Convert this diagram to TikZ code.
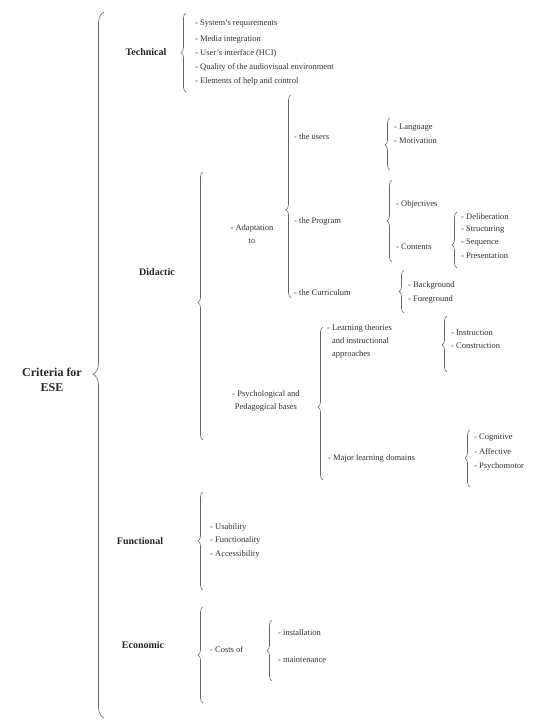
\documentclass[tikz,border=0pt]{standalone}
\usepackage{fontspec}
\setmainfont{Liberation Serif}
\usetikzlibrary{decorations.pathreplacing}
\tikzset{
    lbrace/.style={draw=black!60,line width=0.6pt,decorate,decoration={brace,amplitude=5pt,aspect=#1}},
    lbrace/.default=0.5,
    item/.style={anchor=west,align=left,inner sep=0pt,text=black!80,font=\fontsize{8.5}{13}\selectfont},
    group/.style={inner sep=0pt,text=black!85,font=\fontsize{10}{12}\selectfont\bfseries}
}
\begin{document}
\begin{tikzpicture}[x=1pt,y=-1pt]
        % Draw page
        \useasboundingbox[fill=white] (0,0) rectangle (545,724);
        % Draw root
        \node[inner sep=0pt,align=center,text=black!85,font=\fontsize{12}{15}\selectfont\bfseries] (root) at (52,380) {Criteria for\\ESE};
        \draw[lbrace=0.487,decoration={amplitude=11pt}] (104,718) -- (104,12);
        % Draw technical criteria
        \node[group] (tech) at (146,52) {Technical};
        \draw[lbrace] (186,92) -- (186,13);
        \node[item] (tech1) at (195,24) {- System's requirements};
        \node[item] (tech2) at (195,39) {- Media integration};
        \node[item] (tech3) at (195,53) {- User's interface (HCI)};
        \node[item] (tech4) at (195,67) {- Quality of the audiovisual environment};
        \node[item] (tech5) at (195,81) {- Elements of help and control};
        % Draw didactic criteria
        \node[group] (did) at (157,272) {Didactic};
        \draw[lbrace=0.513] (203,440) -- (203,172);
        \node[item,anchor=center,align=center] (adapt) at (252,234) {- Adaptation\\to};
        \draw[lbrace=0.435] (291,298) -- (291,95);
        \node[item] (users) at (294,137) {- the users};
        \draw[lbrace=0.48] (390,170) -- (390,118);
        \node[item] (lang) at (394,128) {- Language};
        \node[item] (motiv) at (394,141) {- Motivation};
        \node[item] (prog) at (294,221) {- the Program};
        \draw[lbrace] (392,262) -- (392,180);
        \node[item] (obj) at (396,204) {- Objectives};
        \node[item] (cont) at (396,247) {- Contents};
        \draw[lbrace=0.41] (457,268) -- (457,212);
        \node[item] (delib) at (461,217) {- Deliberation};
        \node[item] (struct) at (461,230) {- Structuring};
        \node[item] (seq) at (461,243) {- Sequence};
        \node[item] (pres) at (461,256) {- Presentation};
        \node[item] (curr) at (294,293) {- the Curriculum};
        \draw[lbrace] (404,313) -- (404,270);
        \node[item] (backg) at (408,285) {- Background};
        \node[item] (foreg) at (408,299) {- Foreground};
        \node[item,anchor=center,align=center] (psych) at (266,401) {- Psychological and\\Pedagogical bases};
        \draw[lbrace=0.477] (323,480) -- (323,327);
        \node[item,anchor=north west] (theo) at (327,324) {- Learning theories\\\phantom{- }and instructional\\\phantom{- }approaches};
        \draw[lbrace=0.482] (447,372) -- (447,316);
        \node[item] (instr) at (451,333) {- Instruction};
        \node[item] (constr) at (451,346) {- Construction};
        \node[item] (major) at (328,458) {- Major learning domains};
        \draw[lbrace=0.509] (470,487) -- (470,430);
        \node[item] (cogn) at (474,438) {- Cognitive};
        \node[item] (affect) at (474,452) {- Affective};
        \node[item] (psymot) at (474,466) {- Psychomotor};
        % Draw functional criteria
        \node[group] (func) at (140,541) {Functional};
        \draw[lbrace] (203,590) -- (203,492);
        \node[item] (usab) at (210,527) {- Usability};
        \node[item] (funct) at (210,540) {- Functionality};
        \node[item] (access) at (210,554) {- Accessibility};
        % Draw economic criteria
        \node[group] (econ) at (143,645) {Economic};
        \draw[lbrace=0.5] (203,703) -- (203,607);
        \node[item] (costs) at (210,650) {- Costs of};
        \draw[lbrace] (272,681) -- (272,620);
        \node[item] (inst) at (278,633) {- installation};
        \node[item] (maint) at (278,660) {- maintenance};
\end{tikzpicture}
\end{document}
